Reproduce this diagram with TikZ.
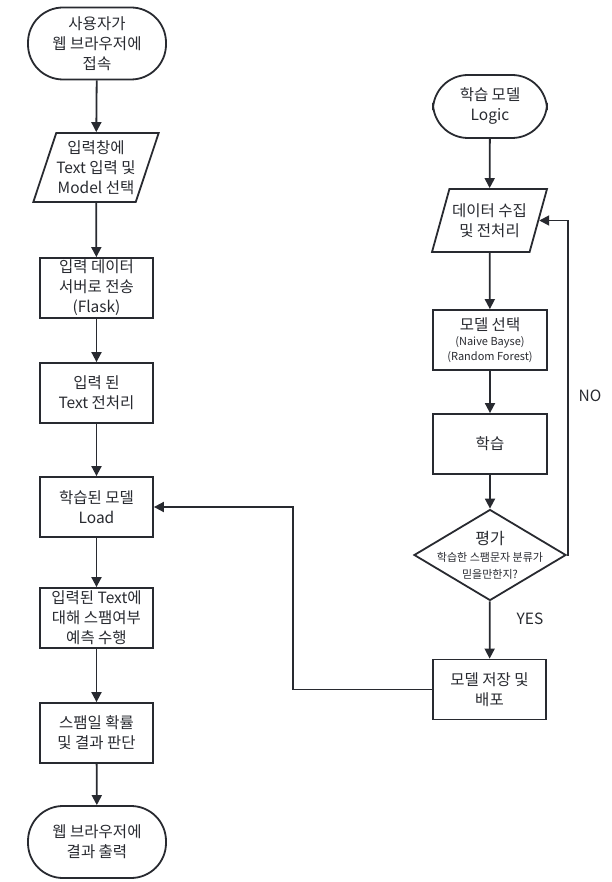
\documentclass[tikz,border=0pt]{standalone}
\usepackage{fontspec}
\setmainfont{Noto Sans CJK KR}
\usepackage{tikz}
\usetikzlibrary{arrows.meta, shapes.geometric}
\definecolor{ink}{RGB}{40,42,48}

\begin{document}
\begin{tikzpicture}[x=1pt, y=-1pt,
  every node/.style={text=ink, align=center, font=\fontsize{15.5}{20}\selectfont},
  terminal/.style={draw=ink, line width=1.8pt, rounded corners=35pt, minimum width=138pt, minimum height=72pt, inner sep=0pt},
  process/.style={draw=ink, line width=1.8pt, minimum width=113pt, minimum height=60pt, inner sep=0pt},
  inout/.style={draw=ink, line width=1.8pt, trapezium, trapezium left angle=#1, trapezium right angle=180-#1, trapezium stretches=true, minimum width=114pt, inner sep=0pt},
  decision/.style={draw=ink, line width=1.8pt, diamond, minimum width=152pt, minimum height=91pt, inner sep=0pt},
  flow/.style={draw=ink, line width=1.8pt, -{Triangle[length=10pt, width=10pt]}}]
\useasboundingbox (0,0) rectangle (611,882);

\node[terminal] (start) at (97,43.5) {사용자가\\웹 브라우저에\\접속};
\node[inout=67, minimum height=69pt] (input) at (96,167.5) {입력창에\\Text 입력 및\\Model 선택};
\node[process] (send) at (96.5,288) {입력 데이터\\서버로 전송\\(Flask)};
\node[process] (prep) at (96.5,393) {입력 된\\Text 전처리};
\node[process] (load) at (96.5,507) {학습된 모델\\Load};
\node[process] (predict) at (96.5,618) {입력된 Text에\\대해 스팸여부\\예측 수행};
\node[process] (judge) at (96.5,733) {스팸일 확률\\및 결과 판단};
\node[terminal] (output) at (97,842) {웹 브라우저에\\결과 출력};

\node[terminal, minimum width=114pt, minimum height=63pt] (logic) at (490,106.5) {학습 모델\\Logic};
\node[inout=64.5, minimum height=63pt, minimum width=115pt] (collect) at (489.5,220.5) {데이터 수집\\및 전처리};
\node[process, minimum width=114pt] (select) at (490,340) {모델 선택\\[-5pt]{\fontsize{11}{14}\selectfont(Naive Bayse)}\\[-5pt]{\fontsize{11}{14}\selectfont(Random Forest)}};
\node[process, minimum width=114pt] (train) at (490,444) {학습};
\node[decision, label={[align=center]center:{\fontsize{16}{18}\selectfont 평가}\\[-3pt]{\fontsize{11}{15}\selectfont 학습한 스팸문자 분류가}\\[-3pt]{\fontsize{11}{15}\selectfont 믿을만한지?}}] (eval) at (490,555) {};
\node[process] (save) at (489.5,689.5) {모델 저장 및\\배포};

\node (no) at (590,396) {NO};
\node (yes) at (530,619) {YES};
\coordinate (noturn) at (568,555);
\coordinate (backturn) at (293,689.5);

\draw[flow] (start) -- (input);
\draw[flow] (input) -- (send);
\draw[flow] (send) -- (prep);
\draw[flow] (prep) -- (load);
\draw[flow] (load) -- (predict);
\draw[flow] (predict) -- (judge);
\draw[flow] (judge) -- (output);

\draw[flow] (logic) -- (collect);
\draw[flow] (collect) -- (select);
\draw[flow] (select) -- (train);
\draw[flow] (train) -- (eval);
\draw[flow] (eval) -- (save);
\draw[flow] (eval.east) -- (noturn) |- (collect.east);
\draw[flow] (save.west) -- (backturn) |- (load.east);
\end{tikzpicture}
\end{document}
